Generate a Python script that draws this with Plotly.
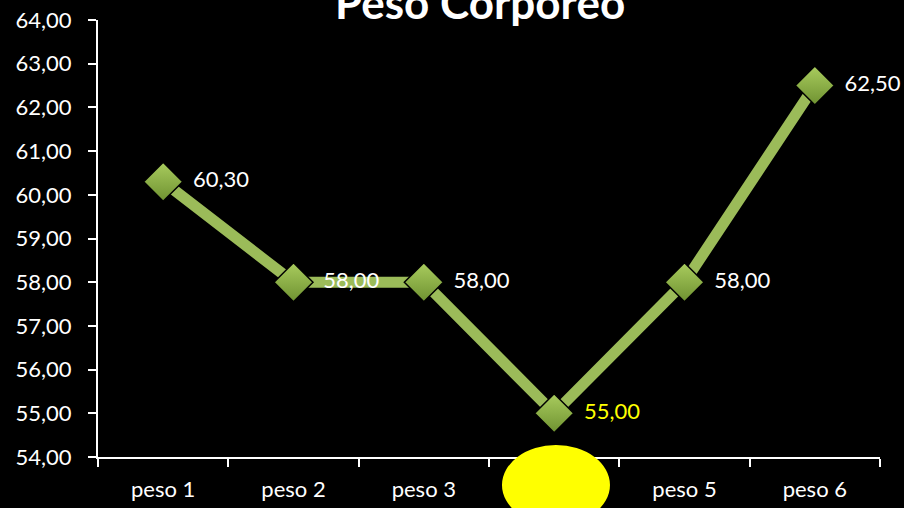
import plotly.graph_objects as go

# Peso corporal por medición
categorias = ["peso 1", "peso 2", "peso 3", "peso 4", "peso 5", "peso 6"]
pesos = [60.30, 58.00, 58.00, 55.00, 58.00, 62.50]
colores_etiqueta = ["white", "white", "white", "#FFFF00", "white", "white"]

verde = "#9BBB59"
fuente = "Lato, 'Open Sans', sans-serif"

fig = go.Figure()

# Línea gruesa
fig.add_trace(go.Scatter(
    x=categorias, y=pesos, mode="lines",
    line=dict(color=verde, width=11),
    hoverinfo="skip", showlegend=False,
))

# Marcadores en rombo
fig.add_trace(go.Scatter(
    x=categorias, y=pesos, mode="markers",
    marker=dict(symbol="diamond", size=30, color="#A9CC5E",
                gradient=dict(type="vertical", color="#6F9231"),
                line=dict(color="#000000", width=1.5)),
    showlegend=False,
))

# Etiquetas de valor (marcador transparente para separarlas del rombo)
fig.add_trace(go.Scatter(
    x=categorias, y=pesos, mode="markers+text",
    marker=dict(symbol="circle", size=46, color="rgba(0,0,0,0)"),
    text=[f"{v:.2f}".replace(".", ",") for v in pesos],
    textposition="middle right",
    textfont=dict(family=fuente, size=22, color=colores_etiqueta),
    cliponaxis=False, hoverinfo="skip", showlegend=False,
))

fig.update_layout(
    width=904, height=508,
    margin=dict(l=98, r=24, t=20, b=51, autoexpand=False),
    paper_bgcolor="black", plot_bgcolor="black",
    separators=",.",
    font=dict(family=fuente, color="white", size=22),
    xaxis=dict(
        type="category", showgrid=False, zeroline=False, automargin=False,
        showline=True, linecolor="white", linewidth=2,
        ticks="outside", tickcolor="white", ticklen=8, tickwidth=2,
        tickson="boundaries", range=[-0.5, 5.5], ticklabelstandoff=12,
        tickfont=dict(family=fuente, size=22, color="white"),
    ),
    yaxis=dict(
        range=[54, 64], dtick=1, tickformat=".2f", automargin=False,
        showgrid=False, zeroline=False,
        showline=True, linecolor="white", linewidth=2,
        ticks="outside", tickcolor="white", ticklen=8, tickwidth=2,
        ticklabelstandoff=12,
        tickfont=dict(family=fuente, size=22, color="white"),
    ),
    annotations=[dict(
        text="<b>Peso Corpóreo</b>", xref="paper", yref="paper",
        x=0.4885, y=1.0, yanchor="bottom", xanchor="center",
        yshift=-10, showarrow=False,
        font=dict(family=fuente, size=44, color="white"),
    )],
    shapes=[dict(
        type="circle", xref="paper", yref="paper",
        x0=0.5166, x1=0.6547, y0=-0.1556, y1=0.0275,
        fillcolor="#FFFF00", line=dict(color="#FFFF00", width=0),
        layer="above",
    )],
)

fig.write_html("out.html")
